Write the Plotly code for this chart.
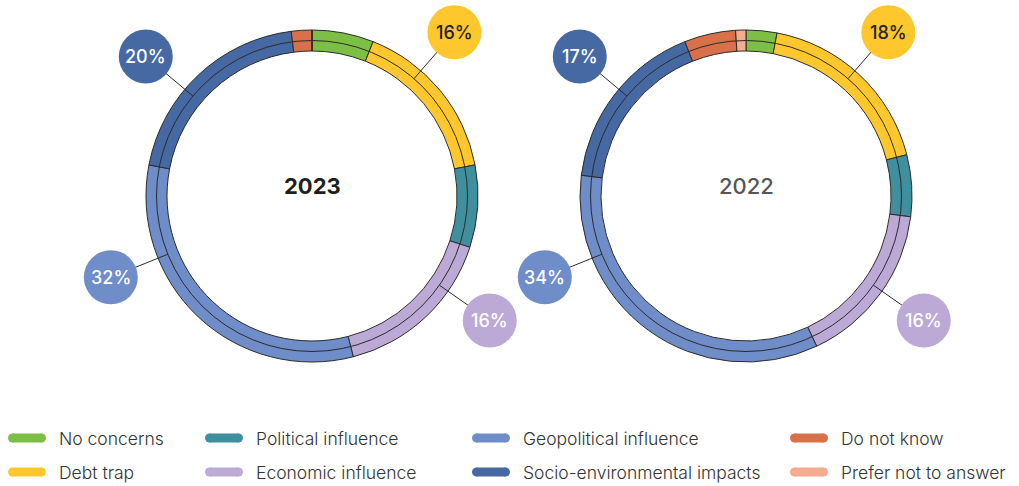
import math
import plotly.graph_objects as go

W, H = 1019, 486

# data
categories = ["No concerns", "Debt trap", "Political influence", "Economic influence",
              "Geopolitical influence", "Socio-environmental impacts", "Do not know",
              "Prefer not to answer"]
colors = ["#7DBF44", "#FFC72E", "#3F8F9E", "#BCA9D6", "#6F8DC9", "#4669A3", "#D8714A", "#F5AB8F"]
values_2023 = [6, 16, 8, 16, 32, 20, 2, 0]
values_2022 = [3, 18, 6, 16, 34, 17, 5, 1]
years = ["2023", "2022"]

# which slices get a callout bubble, and at what angle (deg, clockwise from 12 o'clock)
callouts = {"Debt trap": 41, "Economic influence": 125, "Geopolitical influence": 248,
            "Socio-environmental impacts": 310}
dark_text = {"Debt trap"}


def px(x, y):
    return x / W, 1 - y / H


fig = go.Figure()
shapes, annotations = [], []

centers = [(312, 196), (746, 196)]
R_OUT, R_MID, R_IN = 166, 155.5, 145

for year, vals, (cx, cy) in zip(years, [values_2023, values_2022], centers):
    x0, y1 = px(cx - R_OUT, cy - R_OUT)
    x1, y0 = px(cx + R_OUT, cy + R_OUT)
    fig.add_trace(go.Pie(
        labels=categories, values=vals, sort=False, direction="clockwise", rotation=0,
        hole=R_IN / R_OUT, textinfo="none", hoverinfo="label+value",
        marker=dict(colors=colors, line=dict(color="#2b2b2b", width=1)),
        domain=dict(x=[x0, x1], y=[y0, y1]), showlegend=False,
    ))
    # divider between the two thin rings
    a0, b1 = px(cx - R_MID, cy - R_MID)
    a1, b0 = px(cx + R_MID, cy + R_MID)
    shapes.append(dict(type="circle", xref="paper", yref="paper", x0=a0, x1=a1, y0=b0, y1=b1,
                       line=dict(color="#2b2b2b", width=1), layer="above"))
    cxp, cyp = px(cx, cy - 10)
    annotations.append(dict(x=cxp, y=cyp, xref="paper", yref="paper", text=year, showarrow=False,
                            xanchor="center", yanchor="middle",
                            font=dict(family="Inter", size=22,
                                      color="#1f1f1f" if year == "2023" else "#555555",
                                      weight=700 if year == "2023" else 500)))
    # callout bubbles
    for cat, ang in callouts.items():
        i = categories.index(cat)
        t = math.radians(ang)
        ex, ey = cx + R_MID * math.sin(t), cy - R_MID * math.cos(t)
        bx, by = cx + 217 * math.sin(t), cy - 217 * math.cos(t)
        lx0, ly0 = px(ex, ey)
        lx1, ly1 = px(bx, by)
        shapes.append(dict(type="line", xref="paper", yref="paper", x0=lx0, y0=ly0, x1=lx1, y1=ly1,
                           line=dict(color="#2b2b2b", width=1), layer="above"))
        r = 27
        c0x, c1y = px(bx - r, by - r)
        c1x, c0y = px(bx + r, by + r)
        shapes.append(dict(type="circle", xref="paper", yref="paper", x0=c0x, x1=c1x, y0=c0y, y1=c1y,
                           fillcolor=colors[i], line=dict(width=0), layer="above"))
        annotations.append(dict(x=lx1, y=ly1, xref="paper", yref="paper", text=f"{vals[i]}%",
                                showarrow=False, xanchor="center", yanchor="middle",
                                font=dict(family="Inter", size=18, weight=500,
                                          color="#222222" if cat in dark_text else "white")))

# legend, 4 columns x 2 rows
col_x = [8, 205, 472, 790]
row_y = [438, 472]
for k, cat in enumerate(categories):
    lx, ly = col_x[k // 2], row_y[k % 2]
    pw, ph = 38, 9
    rx0, ry1 = px(lx + ph / 2, ly - ph / 2)
    rx1, ry0 = px(lx + pw - ph / 2, ly + ph / 2)
    shapes.append(dict(type="rect", xref="paper", yref="paper", x0=rx0, x1=rx1, y0=ry0, y1=ry1,
                       fillcolor=colors[k], line=dict(width=0)))
    for ex in (lx + ph / 2, lx + pw - ph / 2):
        e0, f1 = px(ex - ph / 2, ly - ph / 2)
        e1, f0 = px(ex + ph / 2, ly + ph / 2)
        shapes.append(dict(type="circle", xref="paper", yref="paper", x0=e0, x1=e1, y0=f0, y1=f1,
                           fillcolor=colors[k], line=dict(width=0)))
    tx, ty = px(lx + 49, ly)
    annotations.append(dict(x=tx, y=ty, xref="paper", yref="paper", text=cat, showarrow=False,
                            xanchor="left", yanchor="middle",
                            font=dict(family="Inter", size=17.5, weight=300, color="#333333")))

fig.update_layout(
    width=W, height=H, margin=dict(l=0, r=0, t=0, b=0),
    paper_bgcolor="white", plot_bgcolor="white",
    shapes=shapes, annotations=annotations,
)

fig.write_html("out.html", config={"displayModeBar": False},
               post_script="document.body.style.margin='0';")
